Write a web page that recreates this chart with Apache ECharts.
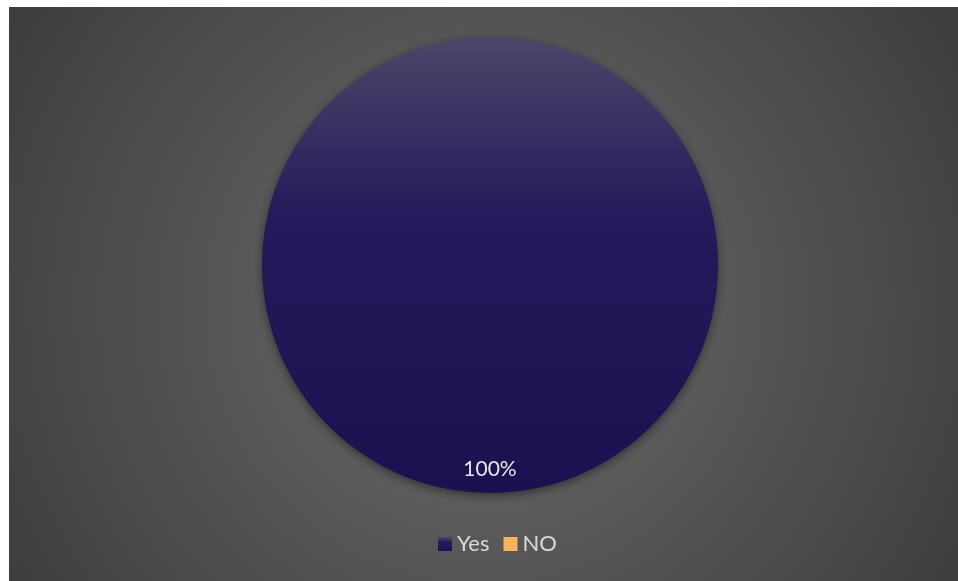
<!DOCTYPE html>
<html>
<head>
<meta charset="utf-8">
<script src="https://cdn.jsdelivr.net/npm/echarts@6/dist/echarts.min.js"></script>
<style>
  html, body { margin: 0; padding: 0; background: #ffffff; }
  #chart { width: 958px; height: 581px; }
</style>
</head>
<body>
<div id="chart"></div>
<script>
// Survey answers and their shares
const categories = ['Yes', 'NO'];
const values = [100, 0];
const colors = [
  new echarts.graphic.LinearGradient(0, 0, 0, 1, [
    { offset: 0, color: '#4c4669' },
    { offset: 0.4, color: '#221a5a' },
    { offset: 1, color: '#1a1250' }
  ]),
  '#f8b45c'
];

const total = values.reduce((a, b) => a + b, 0);

const chart = echarts.init(document.getElementById('chart'), null, { renderer: 'canvas' });

chart.setOption({
  backgroundColor: '#ffffff',
  animation: false,
  graphic: [{
    type: 'rect',
    left: 9,
    top: 7,
    z: -10,
    shape: { width: 949, height: 574 },
    style: {
      fill: new echarts.graphic.RadialGradient(0.5, 0.52, 0.95, [
        { offset: 0, color: '#6c6c6c' },
        { offset: 1, color: '#3e3e3e' }
      ])
    },
    silent: true
  }],
  legend: {
    bottom: 21,
    left: 433,
    icon: 'rect',
    itemWidth: 14,
    itemHeight: 14,
    itemGap: 14,
    textStyle: { color: '#d9d9d9', fontSize: 22, fontFamily: 'Lato, "Open Sans", sans-serif' },
    data: categories
  },
  series: [{
    type: 'pie',
    center: [490, 265],
    radius: [0, 228],
    startAngle: 90,
    clockwise: true,
    avoidLabelOverlap: false,
    itemStyle: {
      borderWidth: 0,
      shadowBlur: 10,
      shadowColor: 'rgba(0,0,0,0.45)',
      shadowOffsetY: 3
    },
    label: {
      show: true,
      position: 'inside',
      color: '#e6e6e6',
      fontSize: 21,
      fontFamily: 'Lato, "Open Sans", sans-serif',
      formatter: p => (p.value > 0 ? Math.round(p.value / total * 100) + '%' : '')
    },
    labelLine: { show: false },
    // Office-style placement of the data label near the rim of the slice
    labelLayout: function (params) {
      if (!params.rect) return {};
      return {
        x: params.rect.x + params.rect.width / 2,
        y: params.rect.y + params.rect.height * 0.948,
        align: 'center',
        verticalAlign: 'middle'
      };
    },
    emphasis: { disabled: true },
    data: categories.map((name, i) => ({
      name: name,
      value: values[i],
      itemStyle: { color: colors[i] }
    }))
  }]
});
</script>
</body>
</html>
